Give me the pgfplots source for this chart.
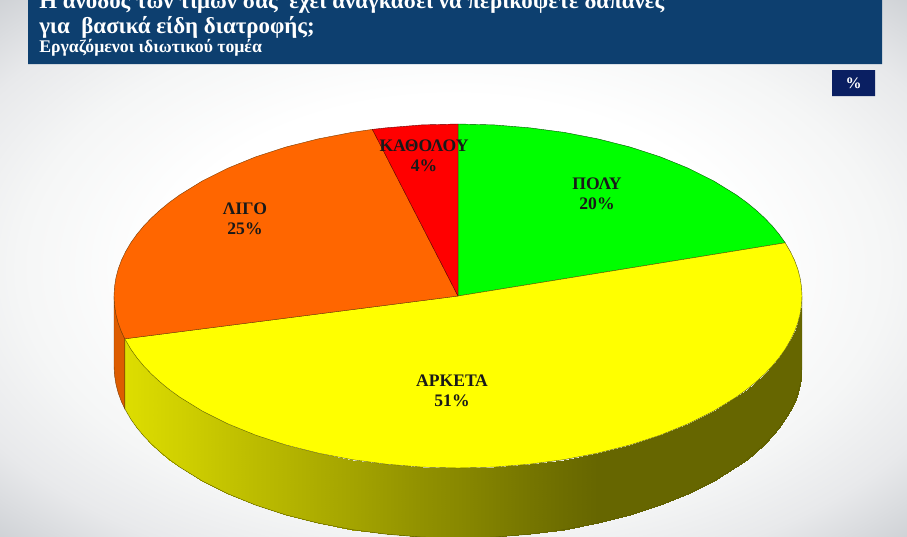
\documentclass[border=0pt]{standalone}
\usepackage{fontspec}
\setmainfont{Liberation Serif}
\usepackage{pgfplots}
\pgfplotsset{compat=1.18}
\definecolor{banner}{HTML}{0D3F6F}
\definecolor{pctbox}{HTML}{0A1F62}
\definecolor{sliceg}{HTML}{00FF00}
\definecolor{slicey}{HTML}{FFFF00}
\definecolor{sliceo}{HTML}{FF6600}
\definecolor{slicer}{HTML}{FF0000}
\definecolor{wallo}{HTML}{DD5C00}
\definecolor{bgedge}{HTML}{CDD0D4}
\definecolor{bgmid}{HTML}{E8E9EB}
\definecolor{bgnear}{HTML}{F5F6F6}
\definecolor{walldark}{HTML}{666600}
\definecolor{walllight}{HTML}{DDDD00}
\definecolor{edgey}{HTML}{5A5A00}
\definecolor{edgeo}{HTML}{7A3A00}
\pgfdeclareradialshading{bgs}{\pgfpoint{0bp}{0bp}}{color(0bp)=(white); color(16bp)=(white); color(24bp)=(bgnear); color(30bp)=(bgmid); color(36bp)=(bgedge); color(50bp)=(bgedge)}
\pgfplotsset{colormap={wall}{color(0)=(walldark) color(1)=(walllight)}}
\begin{document}
\begin{tikzpicture}
\clip (0,0) rectangle (680.25pt,402pt);
\shade[shading=bgs] (0,0) rectangle (680.25pt,402pt);
\begin{axis}[
  scale only axis, width=680.25pt, height=402pt,
  xmin=0, xmax=907, ymin=0, ymax=536, y dir=reverse,
  hide axis,
  colormap name=wall,
  point meta min=0, point meta max=1,
]
% banner and unit box
\addplot[fill=banner,draw=none] coordinates {(28,0)(882,0)(882,64)(28,64)(28,0)};
\addplot[fill=pctbox,draw=none] coordinates {(832,70)(875,70)(875,96)(832,96)(832,70)};
% orange side wall
\addplot[fill=wallo,draw=edgeo,line width=0.3pt] coordinates {
(114,296)(114.5,305)(115.9,314)(118.2,322.9)(121.5,331.8)(124.8,338.8)(124.8,408.8)(121.5,401.8)(118.2,392.9)(115.9,384)(114.5,375)(114,366)(114,296)};
% yellow side wall, shaded
\addplot[surf,shader=interp,mesh/rows=2,point meta=explicit] table[x=x,y=y,meta=c] {
x y c
124.8 338.8 1
130.8 349.2 .99
136.8 357.6 .98
143.7 366 .96
151.5 374.1 .95
160.1 382 .93
169.5 389.7 .91
179.7 397.1 .89
202.4 411.1 .84
227.8 423.8 .78
255.8 435.2 .72
286 445 .66
318.1 453.1 .59
351.7 459.6 .52
386.5 464.2 .44
422 467.1 .36
458 468 .29
494 467.1 .21
529.5 464.2 .13
564.3 459.6 .06
597.9 453.1 0
630 445 0
660.2 435.2 0
688.2 423.8 0
713.6 411.1 0
736.3 397.1 0
746.5 389.7 0
755.9 382 0
764.5 374.1 0
772.3 366 0
779.2 357.6 0
785.2 349.2 0
790.3 340.5 0
794.5 331.8 0
797.8 322.9 0
800.1 314 0
801.5 305 0
802 296 0
124.8 408.8 1
130.8 419.2 .99
136.8 427.6 .98
143.7 436 .96
151.5 444.1 .95
160.1 452 .93
169.5 459.7 .91
179.7 467.1 .89
202.4 481.1 .84
227.8 493.8 .78
255.8 505.2 .72
286 515 .66
318.1 523.1 .59
351.7 529.6 .52
386.5 534.2 .44
422 537.1 .36
458 538 .29
494 537.1 .21
529.5 534.2 .13
564.3 529.6 .06
597.9 523.1 0
630 515 0
660.2 505.2 0
688.2 493.8 0
713.6 481.1 0
736.3 467.1 0
746.5 459.7 0
755.9 452 0
764.5 444.1 0
772.3 436 0
779.2 427.6 0
785.2 419.2 0
790.3 410.5 0
794.5 401.8 0
797.8 392.9 0
800.1 384 0
801.5 375 0
802 366 0
};
% wall outline
\addplot[draw=edgey,line width=0.3pt] coordinates {
(124.8,338.8)(124.8,408.8)(130.8,419.2)(136.8,427.6)(143.7,436)(151.5,444.1)(160.1,452)(169.5,459.7)(179.7,467.1)(202.4,481.1)(227.8,493.8)(255.8,505.2)(286,515)(318.1,523.1)(351.7,529.6)(386.5,534.2)(422,537.1)(458,538)(494,537.1)(529.5,534.2)(564.3,529.6)(597.9,523.1)(630,515)(660.2,505.2)(688.2,493.8)(713.6,481.1)(736.3,467.1)(746.5,459.7)(755.9,452)(764.5,444.1)(772.3,436)(779.2,427.6)(785.2,419.2)(790.3,410.5)(794.5,401.8)(797.8,392.9)(800.1,384)(801.5,375)(802,366)(802,296)};
% ΠΟΛΥ 20
\addplot[fill=sliceg,draw=black!65!green,line width=0.3pt] coordinates {
(458,296)(458,124)(494,124.9)(529.5,127.8)(564.3,132.4)(597.9,138.9)(630,147)(660.2,156.8)(688.2,168.2)(713.6,180.9)(736.3,194.9)(746.5,202.3)(755.9,210)(764.5,217.9)(772.3,226)(779.2,234.4)(785.2,242.8)(458,296)};
% ΑΡΚΕΤΑ 51
\addplot[fill=slicey,draw=edgey,line width=0.3pt] coordinates {
(458,296)(785.2,242.8)(790.3,251.5)(794.5,260.2)(797.8,269.1)(800.1,278)(801.5,287)(802,296)(801.5,305)(800.1,314)(797.8,322.9)(794.5,331.8)(790.3,340.5)(785.2,349.2)(779.2,357.6)(772.3,366)(764.5,374.1)(755.9,382)(746.5,389.7)(736.3,397.1)(713.6,411.1)(688.2,423.8)(660.2,435.2)(630,445)(597.9,453.1)(564.3,459.6)(529.5,464.2)(494,467.1)(458,468)(422,467.1)(386.5,464.2)(351.7,459.6)(318.1,453.1)(286,445)(255.8,435.2)(227.8,423.8)(202.4,411.1)(179.7,397.1)(169.5,389.7)(160.1,382)(151.5,374.1)(143.7,366)(136.8,357.6)(130.8,349.2)(124.8,338.8)(458,296)};
% ΛΙΓΟ 25
\addplot[fill=sliceo,draw=edgeo,line width=0.3pt] coordinates {
(458,296)(124.8,338.8)(121.5,331.8)(118.2,322.9)(115.9,314)(114.5,305)(114,296)(114.5,287)(115.9,278)(118.2,269.1)(121.5,260.2)(125.7,251.5)(130.8,242.8)(136.8,234.4)(143.7,226)(151.5,217.9)(160.1,210)(169.5,202.3)(179.7,194.9)(202.4,180.9)(227.8,168.2)(255.8,156.8)(286,147)(318.1,138.9)(351.7,132.4)(372.4,129.4)(458,296)};
% ΚΑΘΟΛΟΥ 4
\addplot[fill=slicer,draw=black!60!red,line width=0.3pt] coordinates {
(458,296)(372.4,129.4)(386.5,127.8)(422,124.9)(458,124)(458,296)};
% labels
\node[font=\bfseries\fontsize{13.2}{15}\selectfont,align=center,text=black!90] at (axis cs:597,194) {ΠΟΛΥ\\20\%};
\node[font=\bfseries\fontsize{13.2}{15}\selectfont,align=center,text=black!90] at (axis cs:452,391) {ΑΡΚΕΤΑ\\51\%};
\node[font=\bfseries\fontsize{13.2}{15}\selectfont,align=center,text=black!90] at (axis cs:245,219) {ΛΙΓΟ\\25\%};
\node[font=\bfseries\fontsize{13.2}{15}\selectfont,align=center,text=black!90] at (axis cs:424,156) {ΚΑΘΟΛΟΥ\\4\%};
% title
\node[anchor=base west,inner sep=0pt,text=white,font=\bfseries\fontsize{17.2}{20}\selectfont] at (axis cs:39,8) {Η άνοδος των τιμών σας\ \ έχει αναγκάσει να περικόψετε δαπάνες};
\node[anchor=base west,inner sep=0pt,text=white,font=\bfseries\fontsize{17.2}{20}\selectfont] at (axis cs:39,33) {για\ \ βασικά είδη διατροφής;};
\node[anchor=base west,inner sep=0pt,text=white,font=\bfseries\fontsize{13.3}{15}\selectfont] at (axis cs:39,52) {Εργαζόμενοι ιδιωτικού τομέα};
\node[text=white,font=\bfseries\fontsize{12}{14}\selectfont] at (axis cs:853.5,83) {\%};
\end{axis}
\end{tikzpicture}
\end{document}
